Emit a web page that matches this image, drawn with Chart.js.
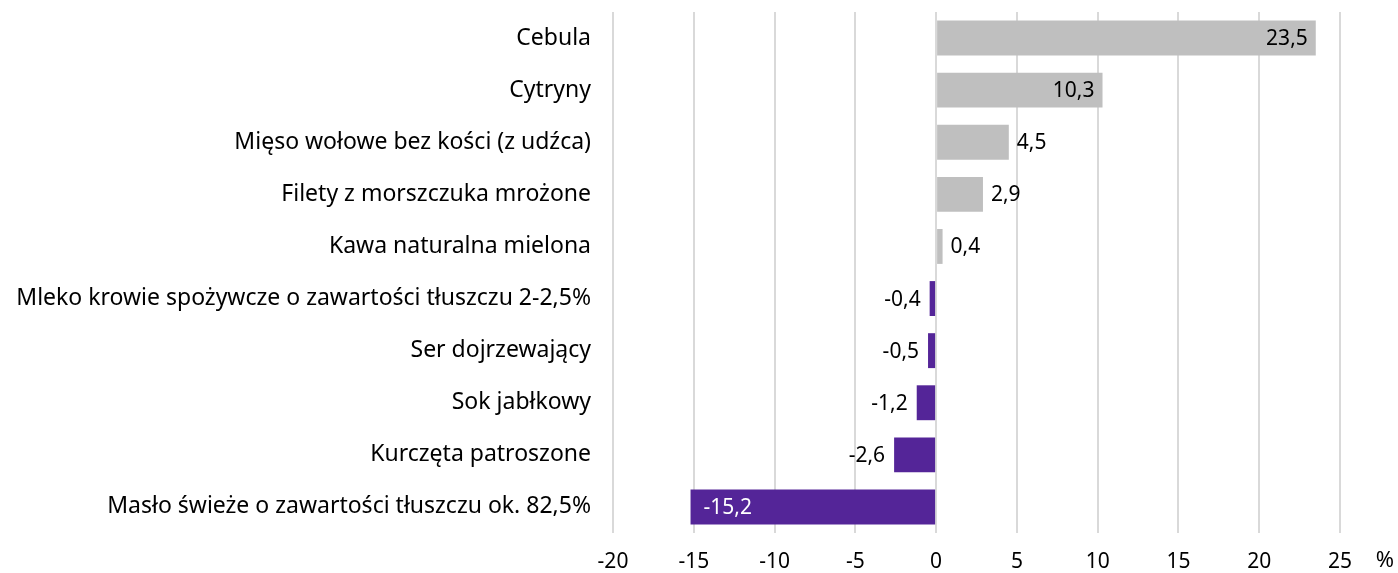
<!DOCTYPE html>
<html lang="pl">
<head>
    <meta charset="UTF-8">
    <title>Zmiana cen</title>
    <script src="https://cdn.jsdelivr.net/npm/chart.js"></script>
    <style>
        html, body { margin: 0; padding: 0; background: #fff; overflow: hidden; }
        canvas { display: block; }
    </style>
</head>
<body>
<canvas id="chart" width="1398" height="573"></canvas>
<script>
// dane
const categories = [
    'Cebula',
    'Cytryny',
    'Mięso wołowe bez kości (z udźca)',
    'Filety z morszczuka mrożone',
    'Kawa naturalna mielona',
    'Mleko krowie spożywcze o zawartości tłuszczu 2-2,5%',
    'Ser dojrzewający',
    'Sok jabłkowy',
    'Kurczęta patroszone',
    'Masło świeże o zawartości tłuszczu ok. 82,5%'
];
const values = [23.5, 10.3, 4.5, 2.9, 0.4, -0.4, -0.5, -1.2, -2.6, -15.2];
const xMin = -20, xMax = 25, xStep = 5;
const unitLabel = '%';

const FONT = '"Noto Sans", sans-serif';
const fmt = v => v.toFixed(1).replace('.', ',');

// etykiety wartości przy słupkach
const barLabels = {
    id: 'barLabels',
    afterDatasetsDraw(chart) {
        const ctx = chart.ctx;
        const meta = chart.getDatasetMeta(0);
        ctx.save();
        ctx.font = '21px ' + FONT;
        ctx.textBaseline = 'middle';
        meta.data.forEach((bar, i) => {
            const v = values[i];
            const inside = Math.abs(v) > 8;
            let x, align, color = '#000';
            if (v >= 0) {
                if (inside) { x = bar.x - 8; align = 'right'; }
                else { x = bar.x + 8; align = 'left'; }
            } else {
                if (inside) { x = bar.x + 13; align = 'left'; color = '#fff'; }
                else { x = bar.x - 9; align = 'right'; }
            }
            ctx.fillStyle = color;
            ctx.textAlign = align;
            ctx.fillText(fmt(v), x, bar.y + 1);
        });
        // jednostka przy osi
        ctx.fillStyle = '#000';
        ctx.textAlign = 'center';
        ctx.font = '22px ' + FONT;
        ctx.fillText(unitLabel, 1385, 561);
        ctx.restore();
    }
};

new Chart(document.getElementById('chart'), {
    type: 'bar',
    data: {
        labels: categories,
        datasets: [{
            data: values,
            backgroundColor: values.map(v => v >= 0 ? '#bfbfbf' : '#542598'),
            barPercentage: 0.67,
            categoryPercentage: 1
        }]
    },
    options: {
        indexAxis: 'y',
        responsive: false,
        animation: false,
        layout: { padding: { top: 12, right: 58, bottom: 0, left: 0 } },
        plugins: {
            legend: { display: false },
            tooltip: { enabled: false }
        },
        scales: {
            x: {
                min: xMin,
                max: xMax,
                ticks: {
                    stepSize: xStep,
                    color: '#000',
                    font: { family: FONT, size: 21 },
                    padding: 16
                },
                grid: { color: '#d9d9d9', lineWidth: 2, drawTicks: false },
                border: { display: false },
                afterFit(s) {
                    s.height = 40;
                    s.paddingLeft = 0; s.paddingRight = 0;
                }
            },
            y: {
                ticks: {
                    color: '#000',
                    font: { family: FONT, size: 23 },
                    padding: 22
                },
                grid: { display: false, drawTicks: false },
                border: { display: false },
                afterFit(s) {
                    s.width = 613;
                    s.paddingTop = 0; s.paddingBottom = 0;
                }
            }
        }
    },
    plugins: [barLabels]
});
</script>
</body>
</html>
